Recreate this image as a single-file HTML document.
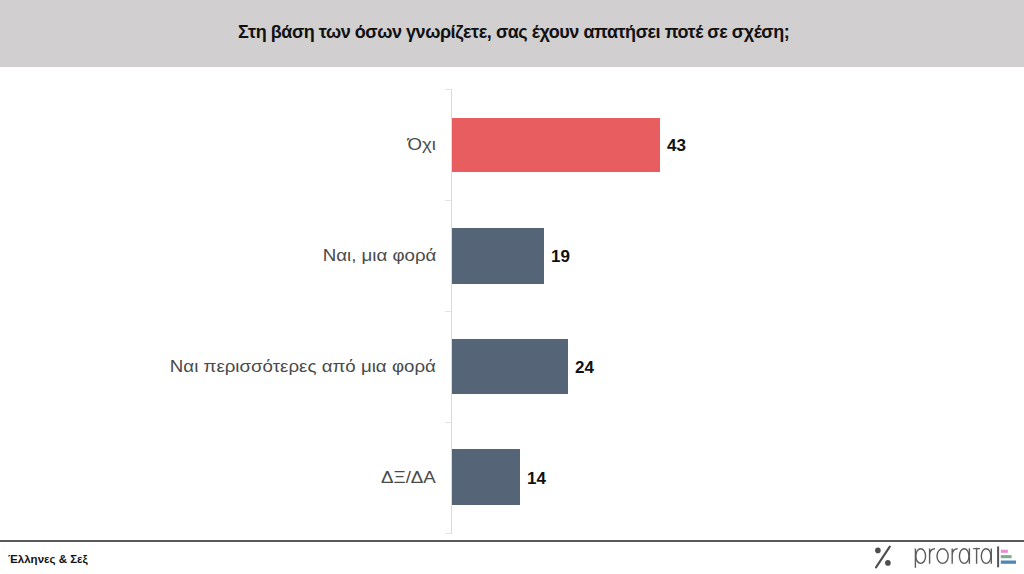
<!DOCTYPE html>
<html>
<head>
<meta charset="utf-8">
<style>
html,body{margin:0;padding:0;}
body{width:1024px;height:574px;position:relative;overflow:hidden;background:#fff;font-family:"Liberation Sans",sans-serif;}
.hdr{position:absolute;left:0;top:0;width:1024px;height:67px;background:#d1cfcf;}
.title{position:absolute;left:0;top:0;width:1024px;height:67px;}
.title span{position:absolute;white-space:nowrap;font-weight:bold;font-size:18px;line-height:20px;color:#111;letter-spacing:-0.45px;}
.axis{position:absolute;left:451px;top:89px;width:1px;height:445px;background:#dadada;}
.tick{position:absolute;left:445px;width:6px;height:1px;background:#e2e2e2;}
.bar{position:absolute;left:452px;height:55px;}
.red{background:#e85d5f;}
.gray{background:#556476;}
.lbl{position:absolute;white-space:nowrap;font-size:17px;line-height:20px;color:#4a4a4a;transform-origin:100% 50%;transform:scaleX(1.1);}
.val{position:absolute;white-space:nowrap;font-size:17px;line-height:20px;font-weight:bold;color:#111;}
.fline{position:absolute;left:0;top:540px;width:1024px;height:2px;background:#595959;}
.foot{position:absolute;left:8px;white-space:nowrap;font-size:11.5px;line-height:14px;font-weight:bold;color:#111;}
</style>
</head>
<body>
<div class="hdr"></div>
<div class="title"><span id="t" style="left:238px;top:22px;">Στη βάση των όσων γνωρίζετε, σας έχουν απατήσει ποτέ σε σχέση;</span></div>

<div class="axis"></div>
<div class="tick" style="top:89px"></div>
<div class="tick" style="top:200px"></div>
<div class="tick" style="top:311px"></div>
<div class="tick" style="top:422px"></div>
<div class="tick" style="top:533px"></div>

<div class="bar red" style="top:118px;height:54px;width:208px;"></div>
<div class="bar gray" style="top:228px;height:56px;width:92px;"></div>
<div class="bar gray" style="top:339px;height:55px;width:116px;"></div>
<div class="bar gray" style="top:449px;height:56px;width:68px;"></div>

<div class="lbl" id="l1" style="right:588px;top:135px;">Όχι</div>
<div class="lbl" id="l2" style="right:588px;top:246px;">Ναι, μια φορά</div>
<div class="lbl" id="l3" style="right:588px;top:357px;">Ναι περισσότερες από μια φορά</div>
<div class="lbl" id="l4" style="right:588px;top:468px;">ΔΞ/ΔΑ</div>

<div class="val" id="v1" style="left:667px;top:136px;">43</div>
<div class="val" id="v2" style="left:551px;top:247px;">19</div>
<div class="val" id="v3" style="left:575px;top:358px;">24</div>
<div class="val" id="v4" style="left:527px;top:469px;">14</div>

<div class="fline"></div>
<div class="foot" style="top:552px;">Έλληνες &amp; Σεξ</div>

<svg style="position:absolute;left:860px;top:542px;" width="164" height="32" viewBox="0 0 164 32">
  <circle cx="17.9" cy="8.4" r="2.8" fill="#4d4d4d"/>
  <circle cx="27.9" cy="20.9" r="2.8" fill="#4d4d4d"/>
  <line x1="16" y1="25.4" x2="29.8" y2="4.6" stroke="#4d4d4d" stroke-width="2.1" stroke-linecap="round"/>
  <g fill="none" stroke="#5c5c5c" stroke-width="1.4">
    <path d="M55.4,6.5 V25.8"/>
    <ellipse cx="60.7" cy="14.1" rx="4.9" ry="7.3"/>
    <path d="M69.6,21.8 V6.6 M69.6,13 C69.8,8.5 71.5,6.8 75,6.8"/>
    <ellipse cx="82.6" cy="14.1" rx="5.6" ry="7.3"/>
    <path d="M92.2,21.8 V6.6 M92.2,13 C92.4,8.5 94.1,6.8 97.6,6.8"/>
    <ellipse cx="104.2" cy="14.1" rx="4.8" ry="7.3"/>
    <path d="M109.4,6.4 V21.8"/>
    <path d="M116.6,5.8 V21.8 M113.2,6.6 H120"/>
    <ellipse cx="126.1" cy="14.1" rx="4.8" ry="7.3"/>
    <path d="M131.3,6.4 V21.8"/>
  </g>
  <rect x="137.1" y="4.4" width="2" height="20.9" fill="#555"/>
  <rect x="140.8" y="7.7" width="7.1" height="3.1" fill="#e78fd2"/>
  <rect x="140.8" y="13.1" width="10.8" height="3.1" fill="#7fae8f"/>
  <rect x="140.8" y="18.5" width="15.2" height="3.3" fill="#4f88b5"/>
</svg>
</body>
</html>
